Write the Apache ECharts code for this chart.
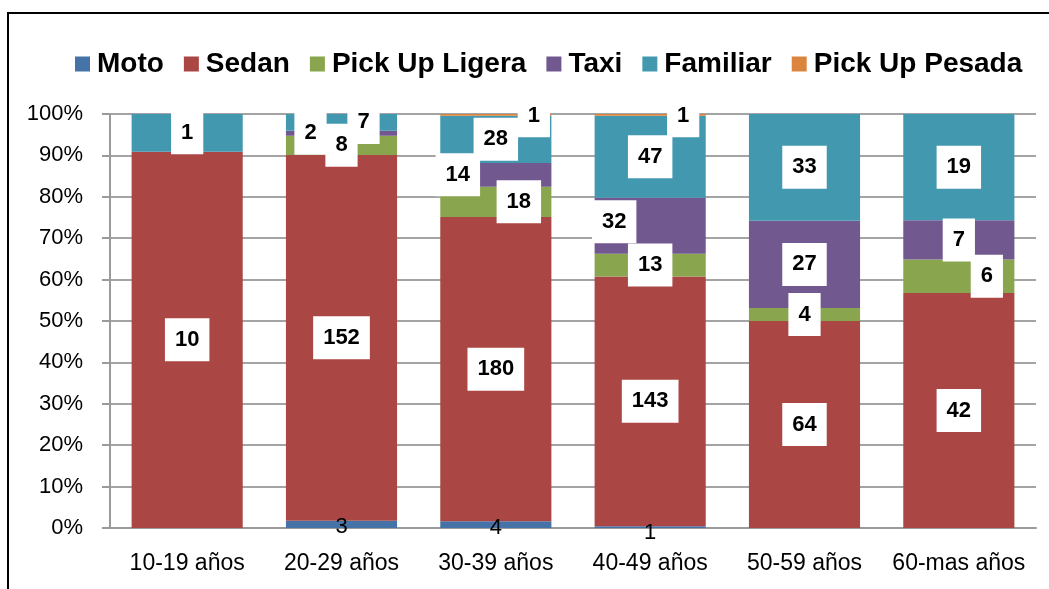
<!DOCTYPE html>
<html>
<head>
<meta charset="utf-8">
<script src="https://cdn.jsdelivr.net/npm/echarts@6/dist/echarts.min.js"></script>
<style>
html,body{margin:0;padding:0;background:#fff;}
#chart{width:1049px;height:589px;}
</style>
</head>
<body>
<div id="chart"></div>
<script>
// datos: cantidad de vehiculos por grupo de edad
var categorias = ["10-19 años", "20-29 años", "30-39 años", "40-49 años", "50-59 años", "60-mas años"];
var moto       = [0, 3, 4, 1, 0, 0];
var sedan      = [10, 152, 180, 143, 64, 42];
var pickLigera = [0, 8, 18, 13, 4, 6];
var taxi       = [0, 2, 14, 32, 27, 7];
var familiar   = [1, 7, 28, 47, 33, 19];
var pickPesada = [0, 0, 1, 1, 0, 0];
var yTicks     = [0, 10, 20, 30, 40, 50, 60, 70, 80, 90, 100];

var nombres = ["Moto", "Sedan", "Pick Up Ligera", "Taxi", "Familiar", "Pick Up Pesada"];
var valores = [moto, sedan, pickLigera, taxi, familiar, pickPesada];
var colores = ["#4572A7", "#AA4643", "#89A54E", "#71588F", "#4198AF", "#DB843D"];

// etiquetas movidas a mano (serie-categoria) -> [dx, dy]
var desplazar = {
	"0-3": [0, 6],
	"3-1": [-31, 0],
	"4-1": [22, 0],
	"2-2": [23, 0],
	"3-2": [-38, 0],
	"5-2": [38, 1],
	"3-3": [-36, -4],
	"5-3": [33, 1],
	"2-5": [28, 0]
};

var totales = [];
for (var i = 0; i < categorias.length; i++) {
	var t = 0;
	for (var s = 0; s < valores.length; s++) t += valores[s][i];
	totales.push(t);
}

var series = [];
for (var s = 0; s < valores.length; s++) {
	var datos = [];
	for (var i = 0; i < categorias.length; i++) {
		var v = valores[s][i];
		var item = { value: v / totales[i] * 100 };
		var lbl = {};
		if (v == 0) lbl.show = false;
		var off = desplazar[s + "-" + i] || (s == 0 ? [0, 3] : null);
		if (off) lbl.offset = off;
		item.label = lbl;
		datos.push(item);
	}
	var etiqueta;
	if (s == 0) {
		etiqueta = {
			show: true, position: 'inside', color: '#000',
			fontFamily: 'Liberation Sans', fontSize: 22
		};
	} else {
		etiqueta = {
			show: true, position: 'inside', color: '#000',
			fontFamily: 'Liberation Sans', fontWeight: 'bold', fontSize: 22,
			lineHeight: 24,
			backgroundColor: '#fff', padding: [10, 10, 9, 10]
		};
	}
	etiqueta.formatter = (function (arr) {
		return function (p) { return arr[p.dataIndex]; };
	})(valores[s]);
	series.push({
		name: nombres[s],
		type: 'bar',
		stack: 'total',
		barWidth: '72%',
		itemStyle: { color: colores[s] },
		label: etiqueta,
		data: datos
	});
}

var myChart = echarts.init(document.getElementById('chart'));
myChart.setOption({
	animation: false,
	backgroundColor: '#fff',
	textStyle: { fontFamily: 'Liberation Sans' },
	graphic: [{
		type: 'polyline',
		shape: { points: [[8, 589], [8, 13], [1049, 13]] },
		style: { stroke: '#000', lineWidth: 2, fill: null }
	}],
	legend: {
		top: 45,
		left: 70,
		itemWidth: 15,
		itemHeight: 15,
		itemGap: 20,
		icon: 'rect',
		textStyle: {
			fontFamily: 'Liberation Sans', fontWeight: 'bold', fontSize: 28, color: '#000',
			padding: [0, 0, 0, 2]
		},
		data: nombres
	},
	grid: { left: 110, right: 13, top: 114, bottom: 61 },
	xAxis: {
		type: 'category',
		data: categorias,
		axisLine: { lineStyle: { color: '#9a9a9a', width: 2 } },
		axisTick: { length: 8, lineStyle: { color: '#9a9a9a', width: 2 } },
		axisLabel: { color: '#000', fontSize: 23, margin: 24, interval: 0 }
	},
	yAxis: {
		type: 'value',
		min: yTicks[0],
		max: yTicks[yTicks.length - 1],
		interval: 10,
		axisLine: { show: true, lineStyle: { color: '#9a9a9a', width: 2 } },
		axisTick: { show: true, length: 8, lineStyle: { color: '#9a9a9a', width: 2 } },
		axisLabel: { color: '#000', fontSize: 22, margin: 27, formatter: '{value}%' },
		splitLine: { lineStyle: { color: '#a4a4a4', width: 2 } }
	},
	series: series
});
</script>
</body>
</html>
